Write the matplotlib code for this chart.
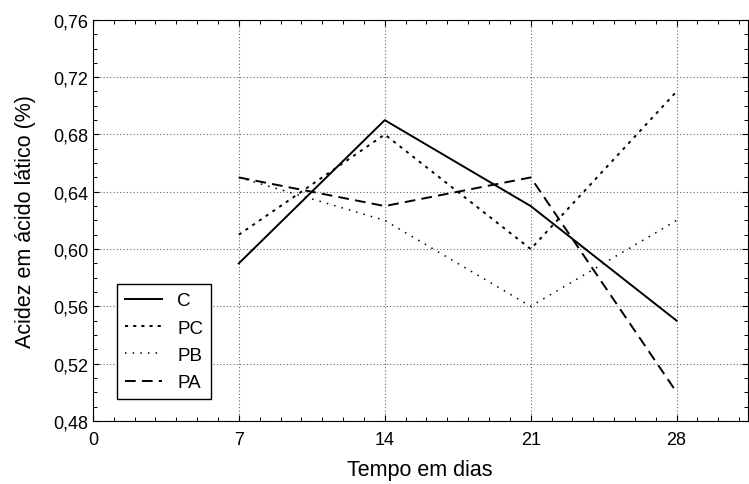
import matplotlib
matplotlib.use("Agg")
import matplotlib.pyplot as plt
from matplotlib.ticker import FuncFormatter, MultipleLocator

plt.rcParams['font.family'] = ['Liberation Sans', 'DejaVu Sans']

dias = [7, 14, 21, 28]
c = [0.59, 0.69, 0.63, 0.55]
pc = [0.61, 0.68, 0.60, 0.71]
pb = [0.65, 0.62, 0.56, 0.62]
pa = [0.65, 0.63, 0.65, 0.50]

xticks = [0, 7, 14, 21, 28]
yticks = [0.48, 0.52, 0.56, 0.60, 0.64, 0.68, 0.72, 0.76]

fig = plt.figure(figsize=(7.49, 4.85), dpi=100)
ax = fig.add_axes([0.124, 0.130, 0.874, 0.827])

ax.plot(dias, c, color='black', lw=1.4, ls='-', label='C')
ax.plot(dias, pc, color='black', lw=1.4, ls=(0, (1.6, 2.6)), label='PC')
ax.plot(dias, pb, color='black', lw=1.1, ls=(0, (1, 4)), label='PB')
ax.plot(dias, pa, color='black', lw=1.4, ls=(0, (5.5, 3.2)), label='PA')

ax.set_xlim(0, 31.4)
ax.set_ylim(0.48, 0.76)
ax.set_xticks(xticks)
ax.set_yticks(yticks)
ax.xaxis.set_minor_locator(MultipleLocator(1))
ax.yaxis.set_minor_locator(MultipleLocator(0.01))
ax.yaxis.set_major_formatter(FuncFormatter(lambda v, p: f"{v:.2f}".replace('.', ',')))
ax.grid(True, which='major', color='#666666', ls=(0, (1, 2)), lw=0.8)
ax.tick_params(which='both', direction='in', top=True, right=True, labelsize=13)
ax.tick_params(axis='x', which='major', pad=7)
ax.tick_params(which='major', length=4)
ax.tick_params(which='minor', length=3, width=0.7)
ax.set_xlabel('Tempo em dias', fontsize=15.5, labelpad=8)
ax.set_ylabel('Acidez em ácido lático (%)', fontsize=15.5, labelpad=12)

leg = ax.legend(loc='lower left', bbox_to_anchor=(0.037, 0.055), fontsize=13.5,
                fancybox=False, framealpha=1, edgecolor='black',
                handlelength=2.0, labelspacing=0.55, borderaxespad=0)
leg.get_frame().set_linewidth(1.0)

fig.savefig('out.png', dpi=100)
